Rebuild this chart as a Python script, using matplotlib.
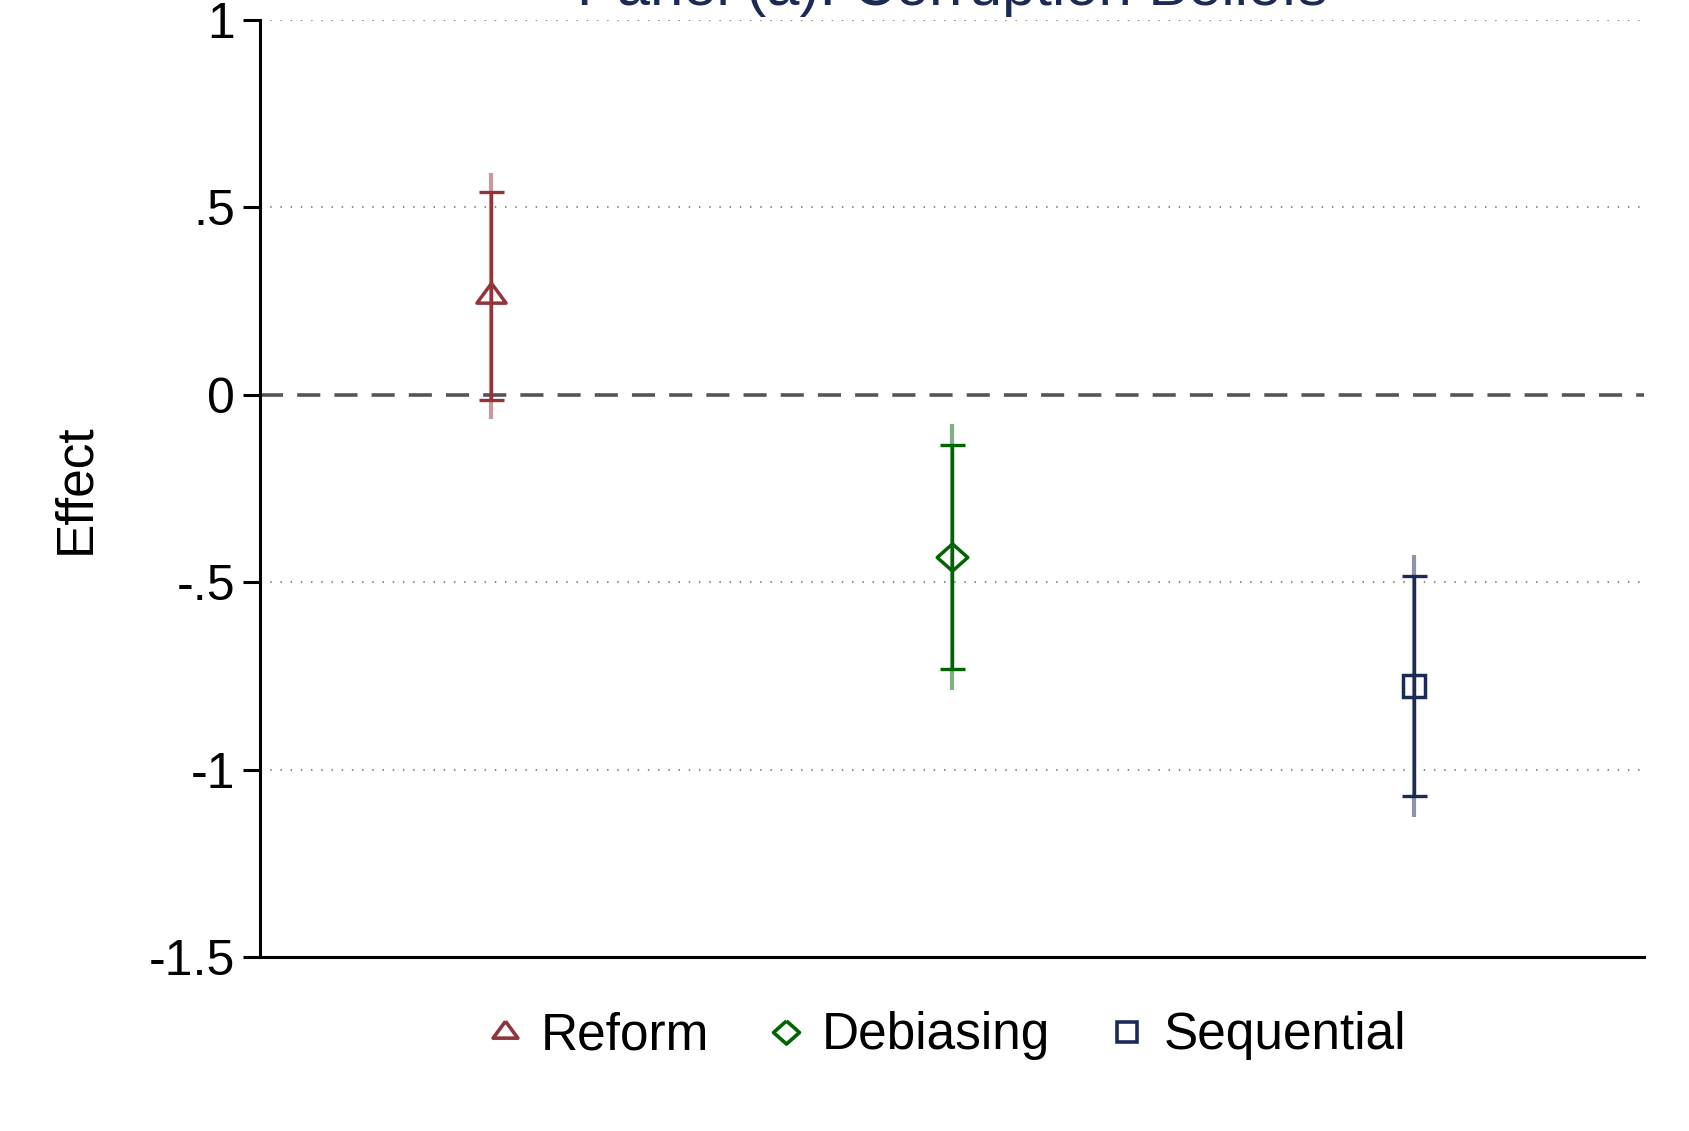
import numpy as np
import matplotlib.pyplot as plt
from matplotlib.lines import Line2D

plt.rcParams['font.family'] = ['Liberation Sans', 'DejaVu Sans']

groups = ['Reform', 'Debiasing', 'Sequential']
xpos = [1, 2, 3]
effects = [0.264, -0.432, -0.777]
ci_lo = [-0.013, -0.731, -1.071]
ci_hi = [0.540, -0.133, -0.482]
ci_wide_lo = [-0.065, -0.787, -1.127]
ci_wide_hi = [0.593, -0.077, -0.427]

yticks = [1, 0.5, 0, -0.5, -1, -1.5]
ytick_labels = ['1', '.5', '0', '-.5', '-1', '-1.5']

colors = ['#90353b', '#006400', '#1c2b55']
navy = '#1c2b55'

# marker shapes (centroid at 0)
tri = [(0, 11.3), (12.5, -5.7), (-12.5, -5.7), (0, 11.3)]
dia = [(0, 12), (13.5, 0), (0, -12), (-13.5, 0), (0, 12)]
markers = [tri, dia, 's']
msizes = [21, 22, 16.5]

fig = plt.figure(figsize=(16.89, 11.31), dpi=100)
ax = fig.add_axes([0.1539, 0.1536, 0.8197, 0.9823 - 0.1536])

for yy in [1, 0.5, -0.5, -1]:
    ax.axhline(yy, color='#8c8c8c', lw=1.5, dashes=(0.7, 4.2), zorder=0)
ax.axhline(0, color='#555555', lw=2.6, dashes=(6.4, 3.9), zorder=1)

for i in range(3):
    ax.vlines(xpos[i], ci_wide_lo[i], ci_wide_hi[i], color=colors[i], alpha=0.5, lw=3.0, zorder=2)
    ax.errorbar(xpos[i], effects[i],
                yerr=[[effects[i] - ci_lo[i]], [ci_hi[i] - effects[i]]],
                fmt='none', ecolor=colors[i], elinewidth=2.4, capsize=9, capthick=2.4, zorder=3)
    ax.plot(xpos[i], effects[i], marker=markers[i], ms=msizes[i], mfc='none',
            mec=colors[i], mew=2.5, ls='none', zorder=4)

ax.set_xlim(0.5, 3.5)
ax.set_ylim(-1.5, 1)
ax.set_yticks(yticks)
ax.set_yticklabels(ytick_labels)
ax.set_xticks([])
ax.tick_params(axis='y', labelsize=36, length=12, width=2.2, pad=6)
for s in ['top', 'right']:
    ax.spines[s].set_visible(False)
ax.spines['left'].set_linewidth(2.2)
ax.spines['bottom'].set_linewidth(2.2)

ax.set_ylabel('Effect', fontsize=37, labelpad=35)
ax.set_title('Panel (a): Corruption Beliefs', fontsize=43, color=navy, pad=10.5)

handles = [Line2D([], [], marker=markers[i], ms=msizes[i] * 0.85, mfc='none', mec=colors[i],
                  mew=2.6, ls='none') for i in range(3)]
fig.legend(handles, groups, loc='center', bbox_to_anchor=(0.561, 0.084), ncol=3,
           frameon=False, fontsize=37, handlelength=0.6, handletextpad=0.40,
           columnspacing=1.2)

fig.savefig('out.png', dpi=100)
